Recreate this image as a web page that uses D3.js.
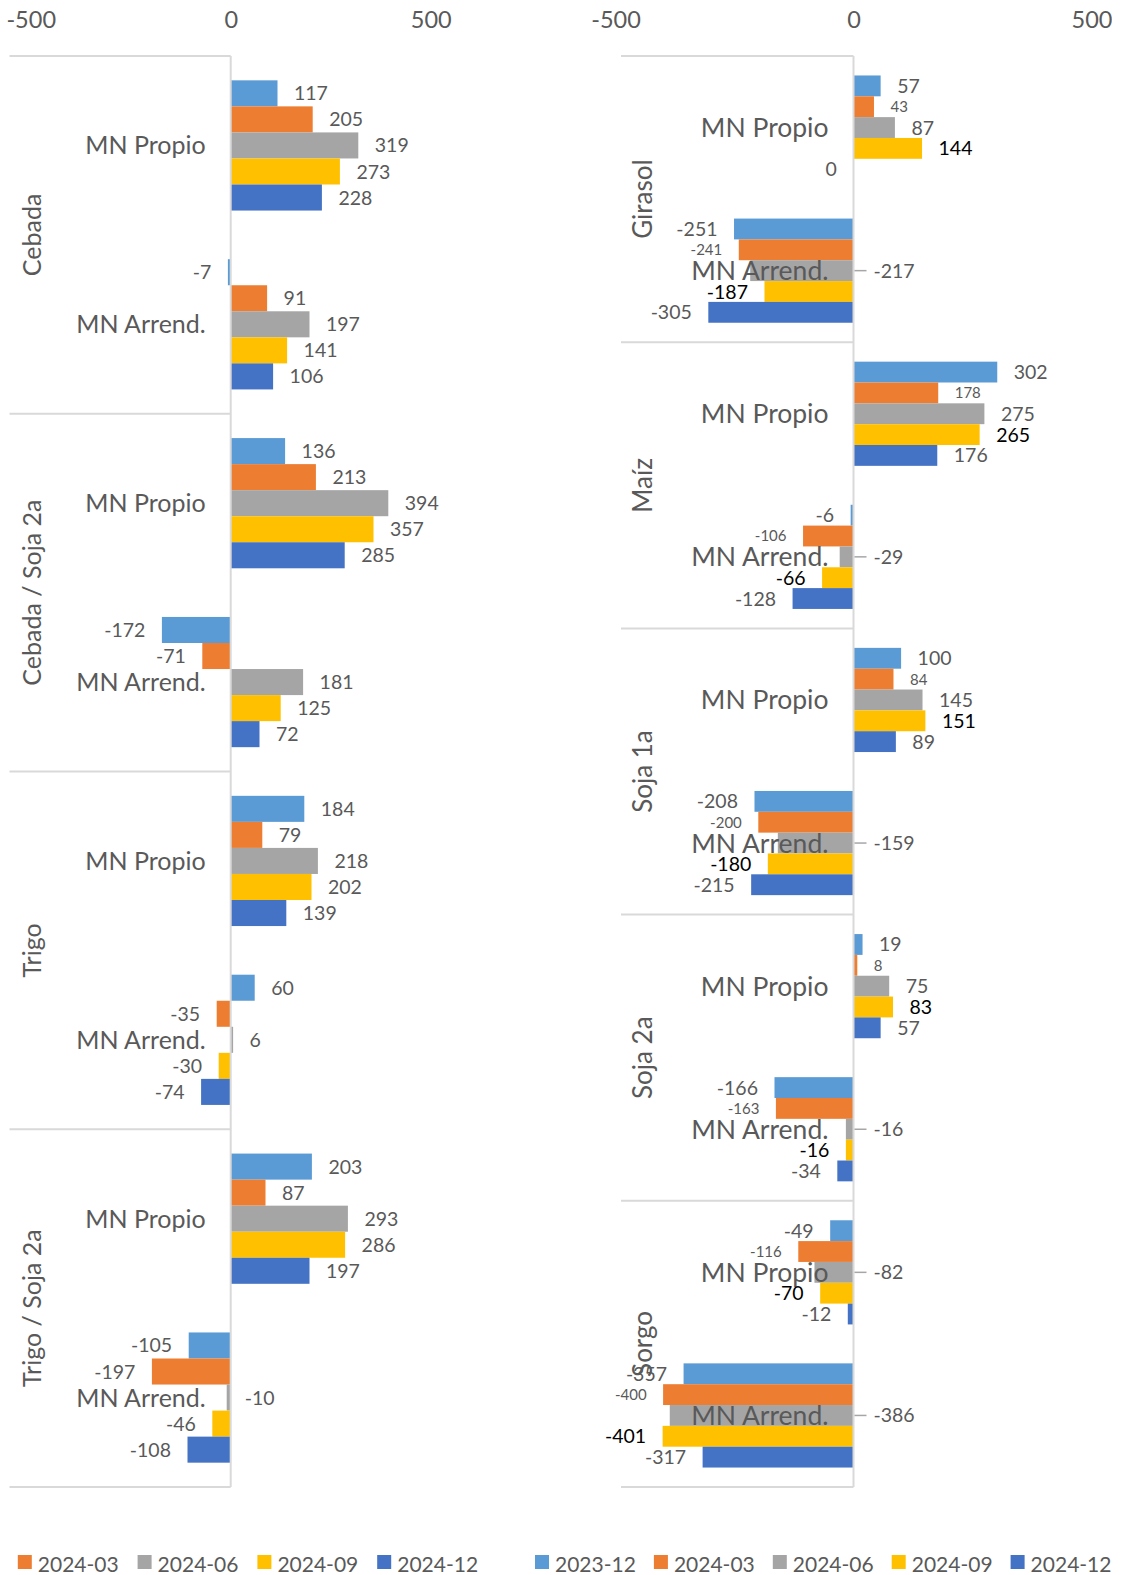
<!DOCTYPE html>
<html><head><meta charset="utf-8">
<script src="https://cdn.jsdelivr.net/npm/d3@7"></script>
<style>
body{margin:0;background:#fff;}
svg{display:block;}
text{font-family:Lato,"Open Sans",sans-serif;}
</style>
</head><body>
<svg id="chart" width="1112" height="1575"></svg>
<script>
// ---------- DATA ----------
const seriesNames = ["2023-12","2024-03","2024-06","2024-09","2024-12"];
const subCategories = ["MN Propio","MN Arrend."];
const leftCrops = ["Cebada","Cebada / Soja 2a","Trigo","Trigo / Soja 2a"];
const rightCrops = ["Girasol","Maíz","Soja 1a","Soja 2a","Sorgo"];
const tickValues = [-500, 0, 500];

// values per crop / sub-category, in series order (2023-12 .. 2024-12)
const cebadaPropio      = [117, 205, 319, 273, 228];
const cebadaArrend      = [-7, 91, 197, 141, 106];
const cebadaSojaPropio  = [136, 213, 394, 357, 285];
const cebadaSojaArrend  = [-172, -71, 181, 125, 72];
const trigoPropio       = [184, 79, 218, 202, 139];
const trigoArrend       = [60, -35, 6, -30, -74];
const trigoSojaPropio   = [203, 87, 293, 286, 197];
const trigoSojaArrend   = [-105, -197, -10, -46, -108];

const girasolPropio = [57, 43, 87, 144, -0.4];
const girasolArrend = [-251, -241, -217, -187, -305];
const maizPropio    = [302, 178, 275, 265, 176];
const maizArrend    = [-6, -106, -29, -66, -128];
const soja1Propio   = [100, 84, 145, 151, 89];
const soja1Arrend   = [-208, -200, -159, -180, -215];
const soja2Propio   = [19, 8, 75, 83, 57];
const soja2Arrend   = [-166, -163, -16, -16, -34];
const sorgoPropio   = [-49, -116, -82, -70, -12];
const sorgoArrend   = [-357, -400, -386, -401, -317];

const leftRows  = [cebadaPropio, cebadaArrend, cebadaSojaPropio, cebadaSojaArrend,
                   trigoPropio, trigoArrend, trigoSojaPropio, trigoSojaArrend];
const rightRows = [girasolPropio, girasolArrend, maizPropio, maizArrend, soja1Propio, soja1Arrend,
                   soja2Propio, soja2Arrend, sorgoPropio, sorgoArrend];

// ---------- STYLE ----------
const colors = d3.scaleOrdinal().domain(seriesNames)
  .range(["#5B9BD5","#ED7D31","#A5A5A5","#FFC000","#4472C4"]);
const textColor = "#595959";
const lineColor = "#d9d9d9";

const panels = [
  {crops:leftCrops, rows:leftRows, xRange:[30.7,430.7], left:9.5, cropFont:25, subFont:25,
   smallSeries:null, darkSeries:null, leader:false, negShift:14, legendStart:-102, legendStep:119.8},
  {crops:rightCrops, rows:rightRows, xRange:[615.5,1091.5], left:621, cropFont:26, subFont:26.5,
   smallSeries:"2024-03", darkSeries:"2024-09", leader:true, negShift:20, legendStart:535, legendStep:118.9}
];

const svg = d3.select("#chart");
const plotTop = 56, plotBottom = 1487;
const fmt = v => String(Math.round(v) + 0);

panels.forEach(p => {
  const g = svg.append("g");
  const x = d3.scaleLinear().domain([-500, 500]).range(p.xRange);
  const yCrop = d3.scaleBand().domain(p.crops).range([plotTop, plotBottom]);
  const ySub = d3.scaleBand().domain(subCategories).range([0, yCrop.bandwidth()]);
  const sb = ySub.bandwidth();
  const ySer = d3.scaleBand().domain(seriesNames).range([sb * 0.136, sb * 0.864]);

  const data = [];
  p.crops.forEach((c, i) => subCategories.forEach((s, j) => {
    p.rows[i * 2 + j].forEach((v, k) => data.push({crop:c, sub:s, series:seriesNames[k], value:v}));
  }));
  const yOf = d => yCrop(d.crop) + ySub(d.sub) + ySer(d.series);

  // top axis tick labels
  const ax = g.append("g").attr("transform", "translate(0,28)")
    .call(d3.axisTop(x).tickValues(tickValues).tickSize(0).tickPadding(0).tickFormat(d => String(d)));
  ax.select(".domain").remove();
  ax.selectAll("text").attr("fill", textColor).style("font-size", "23.5px")
    .style("font-family", "Lato");

  // separators
  const bounds = p.crops.map(c => yCrop(c)).concat([plotBottom]);
  g.selectAll("line.sep").data(bounds).join("line").attr("class", "sep")
    .attr("x1", p.left).attr("x2", x(0)).attr("y1", d => d).attr("y2", d => d)
    .attr("stroke", lineColor).attr("stroke-width", 2);

  // bars
  g.selectAll("rect.bar").data(data).join("rect").attr("class", "bar")
    .attr("x", d => x(Math.min(0, d.value)))
    .attr("width", d => Math.abs(x(d.value) - x(0)))
    .attr("y", yOf)
    .attr("height", ySer.bandwidth())
    .attr("fill", d => colors(d.series));

  // zero (category) axis line
  g.append("line").attr("x1", x(0)).attr("x2", x(0)).attr("y1", plotTop).attr("y2", plotBottom)
    .attr("stroke", lineColor).attr("stroke-width", 2);

  // crop labels
  g.selectAll("text.crop").data(p.crops).join("text").attr("class", "crop")
    .attr("transform", c => `translate(${p.left + 22},${yCrop(c) + yCrop.bandwidth() / 2}) rotate(-90)`)
    .attr("text-anchor", "middle").attr("dy", "0.36em")
    .attr("fill", textColor).style("font-size", p.cropFont + "px").text(c => c);

  // sub-category labels
  const subData = [];
  p.crops.forEach(c => subCategories.forEach(s => subData.push({crop:c, sub:s})));
  g.selectAll("text.sub").data(subData).join("text").attr("class", "sub")
    .attr("x", x(0) - 25)
    .attr("y", d => yCrop(d.crop) + ySub(d.sub) + sb / 2)
    .attr("text-anchor", "end").attr("dy", "0.36em")
    .attr("fill", textColor).style("font-size", p.subFont + "px").text(d => d.sub);

  // leader lines
  const movedLabel = d => d.series === "2024-06" && d.value < 0;
  if (p.leader) {
    g.selectAll("line.leader").data(data.filter(movedLabel)).join("line").attr("class", "leader")
      .attr("x1", x(0) + 1).attr("x2", x(0) + 13)
      .attr("y1", d => yOf(d) + ySer.bandwidth() / 2).attr("y2", d => yOf(d) + ySer.bandwidth() / 2)
      .attr("stroke", "#a6a6a6").attr("stroke-width", 1.5);
  }

  // data labels
  g.selectAll("text.lbl").data(data).join("text").attr("class", "lbl")
    .attr("x", d => movedLabel(d) ? x(0) + p.negShift : (d.value >= 0 ? x(d.value) + 16.5 : x(d.value) - 16.5))
    .attr("y", d => yOf(d) + ySer.bandwidth() / 2)
    .attr("dy", "0.36em")
    .attr("text-anchor", d => (movedLabel(d) || d.value >= 0) ? "start" : "end")
    .attr("fill", d => d.series === p.darkSeries ? "#000" : textColor)
    .style("font-size", d => d.series === p.smallSeries ? "15px" : "19.5px")
    .text(d => fmt(d.value));

  // legend
  const lg = g.append("g");
  const items = lg.selectAll("g").data(seriesNames).join("g")
    .attr("transform", (s, i) => `translate(${p.legendStart + i * p.legendStep},0)`);
  items.append("rect").attr("x", 0).attr("y", 1555).attr("width", 14).attr("height", 14)
    .attr("fill", s => colors(s));
  items.append("text").attr("x", 20).attr("y", 1571.5).attr("fill", textColor)
    .style("font-size", "21px").text(s => s);
});
</script>
</body></html>
